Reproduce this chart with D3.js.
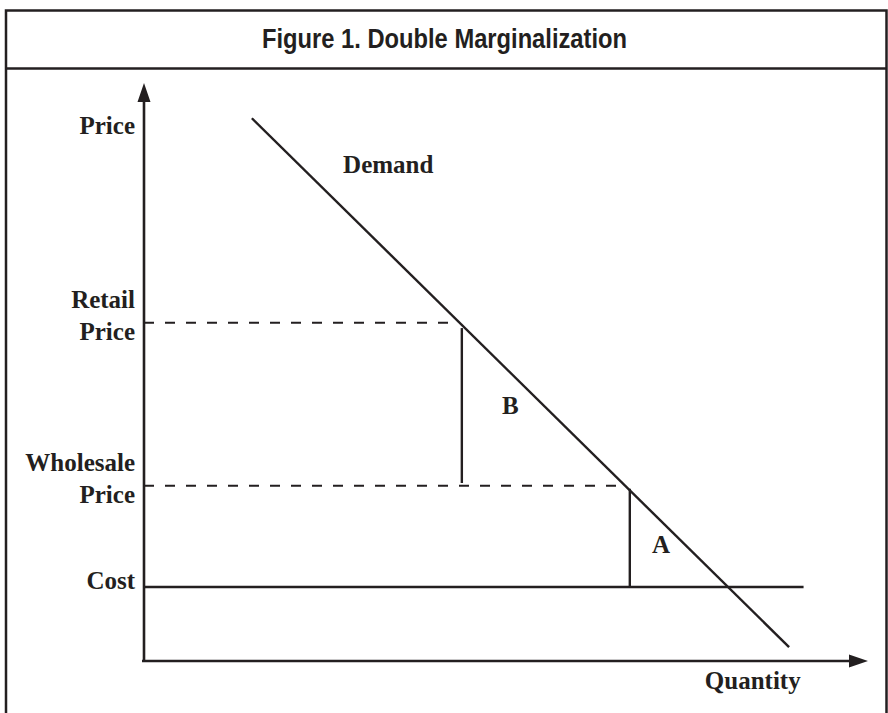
<!DOCTYPE html>
<html>
<head>
<meta charset="utf-8">
<script src="https://cdn.jsdelivr.net/npm/d3@7"></script>
<style>
  body { margin: 0; background: #fff; }
  svg { display: block; }
  .lbl { font-family: "Liberation Serif", "Times New Roman", serif; font-weight: bold; font-size: 25px; fill: #231f20; }
  .title { font-family: "Liberation Sans", Arial, sans-serif; font-weight: bold; font-size: 28px; fill: #231f20; }
</style>
</head>
<body>
<div id="chart"></div>
<script>
"use strict";
(function() {
  // data (quantity 0..100 on x, price 0..100 on y)
  var titleText = "Figure 1. Double Marginalization";
  var demand = [{q: 14.9, p: 93.9}, {q: 89.1, p: 2.4}];
  var levelNames = ["Retail Price", "Wholesale Price", "Cost"];
  var levelPrices = [58.5, 30.3, 12.8];
  var levelEnds = [43.6, 66.6, 91.1];      // quantity where each level line stops
  var levelDashed = [true, true, false];
  var gapNames = ["B", "A"];
  var gapQty = [43.9, 67.1];
  var gapTop = [57.6, 29.8];
  var gapBottom = [30.8, 12.8];
  var gapLabelPos = [{q: 50.6, p: 42.7}, {q: 71.4, p: 18.7}];
  var priceLabel = {text: "Price", p: 91.2};
  var demandLabel = {text: "Demand", q: 27.5, p: 84.4};
  var qtyLabel = {text: "Quantity", q: 90.7};

  var width = 888, height = 713, ink = "#231f20";
  var x, y, svg, g, arrow;

  x = d3.scaleLinear().domain([0, 100]).range([144, 868]);
  y = d3.scaleLinear().domain([0, 100]).range([661, 83]);

  svg = d3.select("#chart").append("svg")
    .attr("width", width)
    .attr("height", height);

  // frame and title box
  svg.append("path")
    .attr("d", "M6,713V10.5H886.5V713")
    .attr("fill", "none")
    .attr("stroke", ink)
    .attr("stroke-width", 2.5);
  svg.append("line")
    .attr("x1", 6).attr("x2", 886.5)
    .attr("y1", 68.5).attr("y2", 68.5)
    .attr("stroke", ink)
    .attr("stroke-width", 2.5);
  svg.append("text")
    .attr("class", "title")
    .attr("x", 444.5)
    .attr("y", 48)
    .attr("text-anchor", "middle")
    .attr("textLength", 365)
    .attr("lengthAdjust", "spacingAndGlyphs")
    .text(titleText);

  g = svg.append("g");

  // axes with arrowheads
  g.append("line")
    .attr("x1", x(0)).attr("y1", y(0) + 1)
    .attr("x2", x(0)).attr("y2", y(100) + 18)
    .attr("stroke", ink).attr("stroke-width", 2.6);
  g.append("line")
    .attr("x1", x(0) - 2).attr("y1", y(0))
    .attr("x2", x(100) - 18).attr("y2", y(0))
    .attr("stroke", ink).attr("stroke-width", 2.6);

  arrow = d3.path();
  arrow.moveTo(x(0), y(100));
  arrow.lineTo(x(0) + 6.5, y(100) + 19);
  arrow.lineTo(x(0) - 6.5, y(100) + 19);
  arrow.closePath();
  arrow.moveTo(x(100), y(0));
  arrow.lineTo(x(100) - 19, y(0) - 6.5);
  arrow.lineTo(x(100) - 19, y(0) + 6.5);
  arrow.closePath();
  g.append("path").attr("d", arrow.toString()).attr("fill", ink);

  // price levels
  g.selectAll(".level")
    .data(levelPrices)
    .enter()
    .append("line")
    .attr("class", "level")
    .attr("x1", x(0))
    .attr("x2", function(d, i) { return x(levelEnds[i]); })
    .attr("y1", function(d) { return y(d); })
    .attr("y2", function(d) { return y(d); })
    .attr("stroke", ink)
    .attr("stroke-width", function(d, i) { return levelDashed[i] ? 2 : 2.4; })
    .attr("stroke-dasharray", function(d, i) { return levelDashed[i] ? "10,11" : null; });

  // demand curve
  g.append("path")
    .datum(demand)
    .attr("d", d3.line().x(function(d) { return x(d.q); }).y(function(d) { return y(d.p); }))
    .attr("fill", "none")
    .attr("stroke", ink)
    .attr("stroke-width", 2.4);

  // margin gaps
  g.selectAll(".gap")
    .data(gapQty)
    .enter()
    .append("line")
    .attr("class", "gap")
    .attr("x1", function(d) { return x(d); })
    .attr("x2", function(d) { return x(d); })
    .attr("y1", function(d, i) { return y(gapTop[i]); })
    .attr("y2", function(d, i) { return y(gapBottom[i]); })
    .attr("stroke", ink)
    .attr("stroke-width", 2.4);

  g.selectAll(".gap-label")
    .data(gapNames)
    .enter()
    .append("text")
    .attr("class", "lbl")
    .attr("x", function(d, i) { return x(gapLabelPos[i].q); })
    .attr("y", function(d, i) { return y(gapLabelPos[i].p); })
    .attr("text-anchor", "middle")
    .text(function(d) { return d; });

  // level labels, right aligned next to the price axis
  g.selectAll(".level-label")
    .data(levelNames)
    .enter()
    .append("text")
    .attr("class", "lbl")
    .attr("text-anchor", "end")
    .each(function(d, i) {
      var words = d.split(" "), t = d3.select(this), base = y(levelPrices[i]);
      if (words.length === 1) {
        t.append("tspan").attr("x", x(0) - 9).attr("y", base + 2).text(words[0]);
      } else {
        t.append("tspan").attr("x", x(0) - 9).attr("y", base - 15).text(words[0]);
        t.append("tspan").attr("x", x(0) - 9).attr("y", base + 17).text(words[1]);
      }
    });

  g.append("text")
    .attr("class", "lbl")
    .attr("x", x(0) - 9)
    .attr("y", y(priceLabel.p))
    .attr("text-anchor", "end")
    .text(priceLabel.text);

  g.append("text")
    .attr("class", "lbl")
    .attr("x", x(demandLabel.q))
    .attr("y", y(demandLabel.p))
    .text(demandLabel.text);

  g.append("text")
    .attr("class", "lbl")
    .attr("x", x(qtyLabel.q))
    .attr("y", y(0) + 28)
    .attr("text-anchor", "end")
    .text(qtyLabel.text);
})();
</script>
</body>
</html>
